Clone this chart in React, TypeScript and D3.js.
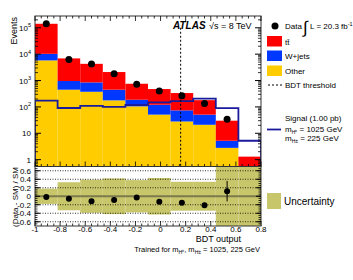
import React from "react";
import * as d3 from "d3";

// BDT output binning and per-bin yields
const binEdges = [-1, -0.82, -0.64, -0.46, -0.28, -0.1, 0.08, 0.26, 0.44, 0.62, 0.8];
const otherEvents = [5800, 450, 375, 177, 105, 51, 28, 21, 2.8, 0.2];
const wjetsEvents = [4500, 510, 475, 273, 82, 70, 46, 30, 2.4, 0.1];
const ttbarEvents = [131700, 5940, 3450, 1650, 568, 354, 261, 129, 24.8, 1.0];
const signalEvents = [172, 91, 110, 100, 118, 148, 165, 205, 90, 5.2];
const dataEvents = [142000, 6300, 4200, 1800, 720, 400, 265, 135, 34];

// lower panel: (Data - SM) / SM
const ratioValues = [-0.02, -0.06, -0.12, -0.09, -0.03, -0.13, -0.15, -0.21, 0.12];
const ratioErrors = [0.01, 0.02, 0.02, 0.03, 0.04, 0.05, 0.05, 0.06, 0.24];
const bandHalfWidth = [0.18, 0.33, 0.39, 0.42, 0.38, 0.43, 0.34, 0.34, 1.0, 1.0];

const xTickLabels = [-1, -0.8, -0.6, -0.4, -0.2, 0, 0.2, 0.4, 0.6, 0.8];
const ratioTickLabels = [0.6, 0.4, 0.2, 0, -0.2, -0.4, -0.6];
const eventExponents = [0, 1, 2, 3, 4, 5];
const bdtThreshold = 0.16;

const font = "'Liberation Sans', Arial, Helvetica, sans-serif";
const left = 35;
const right = 261;
const mainTop = 16;
const mainBottom = 166.5;
const ratioBottom = 226;
const yMin = 0.55;

const red = "#ff0000";
const blue = "#0038ff";
const yellow = "#ffcc00";
const sigBlue = "#1a1a9c";
const bandColor = "#c8c66a";

export default function App() {
  const x = d3.scaleLinear().domain([-1, 0.8]).range([left, right]);
  const y = d3.scaleLog().domain([yMin, 2.8e5]).range([mainBottom, mainTop]).clamp(true);
  const yr = d3.scaleLinear().domain([-0.7, 0.7]).range([ratioBottom, mainBottom]).clamp(true);

  const rows = otherEvents.map((o, i) => ({ other: o, wjets: wjetsEvents[i], ttbar: ttbarEvents[i] }));
  const stacked = d3.stack<any>().keys(["other", "wjets", "ttbar"])(rows);
  const fills = [yellow, blue, red];

  const centers = dataEvents.map((_, i) => (binEdges[i] + binEdges[i + 1]) / 2);

  // signal step outline
  const sigPts: [number, number][] = [[x(binEdges[0]), mainBottom]];
  signalEvents.forEach((v, i) => {
    sigPts.push([x(binEdges[i]), y(v)]);
    sigPts.push([x(binEdges[i + 1]), y(v)]);
  });
  sigPts.push([x(binEdges[binEdges.length - 1]), mainBottom]);
  const sigPath = d3.line()(sigPts) || "";

  // ticks
  const minorX = d3.range(-1, 0.8001, 0.05);
  const majorY: number[] = eventExponents.map((e) => Math.pow(10, e));
  const minorY: number[] = [];
  for (let e = -1; e <= 5; e++) {
    for (let k = 2; k <= 9; k++) {
      const v = k * Math.pow(10, e);
      if (v > yMin && v < 2.8e5) minorY.push(v);
    }
  }
  const ratioMinor = d3.range(-0.7, 0.7001, 0.05).filter((v) => Math.abs(v) < 0.69);

  return (
    <svg
      width={353}
      height={280}
      style={{ position: "absolute", left: 0, top: 0, background: "#fff" }}
      fontFamily={font}
    >
      <defs>
        <clipPath id="mainClip">
          <rect x={left} y={mainTop} width={right - left} height={mainBottom - mainTop} />
        </clipPath>
        <clipPath id="ratioClip">
          <rect x={left} y={mainBottom} width={right - left} height={ratioBottom - mainBottom} />
        </clipPath>
      </defs>

      {/* main panel */}
      <g clipPath="url(#mainClip)">
        {stacked.map((layer, li) =>
          layer.map((d, i) => (
            <rect
              key={`${li}-${i}`}
              x={x(binEdges[i])}
              width={x(binEdges[i + 1]) - x(binEdges[i])}
              y={y(d[1])}
              height={Math.max(0, y(Math.max(d[0], yMin)) - y(d[1]))}
              fill={fills[li]}
            />
          ))
        )}
        <path d={sigPath} fill="none" stroke={sigBlue} strokeWidth={1.8} />
      </g>
      <line
        x1={x(bdtThreshold)}
        x2={x(bdtThreshold)}
        y1={y(1e5)}
        y2={mainBottom}
        stroke="#000"
        strokeWidth={1}
        strokeDasharray="2,2"
      />
      {dataEvents.map((v, i) => (
        <circle key={i} cx={x(centers[i])} cy={y(v)} r={3.5} fill="#000" />
      ))}

      {/* main axes */}
      <rect x={left} y={mainTop} width={right - left} height={mainBottom - mainTop} fill="none" stroke="#333" strokeWidth={1} />
      {majorY.map((v) => (
        <g key={`my${v}`}>
          <line x1={left} x2={left + 6} y1={y(v)} y2={y(v)} stroke="#000" />
          <line x1={right} x2={right - 6} y1={y(v)} y2={y(v)} stroke="#000" />
        </g>
      ))}
      {minorY.map((v) => (
        <g key={`mny${v}`}>
          <line x1={left} x2={left + 3} y1={y(v)} y2={y(v)} stroke="#000" strokeWidth={0.8} />
          <line x1={right} x2={right - 3} y1={y(v)} y2={y(v)} stroke="#000" strokeWidth={0.8} />
        </g>
      ))}
      {minorX.map((v, i) => {
        const major = i % 4 === 0;
        return (
          <g key={`mx${i}`}>
            <line x1={x(v)} x2={x(v)} y1={mainBottom} y2={mainBottom - (major ? 5 : 2.5)} stroke="#000" strokeWidth={0.8} />
            <line x1={x(v)} x2={x(v)} y1={mainTop} y2={mainTop + (major ? 5 : 2.5)} stroke="#000" strokeWidth={0.8} />
            <line x1={x(v)} x2={x(v)} y1={ratioBottom} y2={ratioBottom - (major ? 5 : 2.5)} stroke="#000" strokeWidth={0.8} />
          </g>
        );
      })}
      {eventExponents.map((e) => (
        <text key={`ly${e}`} x={31} y={y(Math.pow(10, e)) + 3} fontSize={8} textAnchor="end">
          {e === 0 ? "1" : "10"}
          {e > 1 ? (
            <tspan dy={-3.5} fontSize={5.5}>
              {e}
            </tspan>
          ) : null}
        </text>
      ))}
      <text transform={`translate(16.5,17) rotate(-90)`} fontSize={9} textAnchor="end">
        Events
      </text>

      {/* ratio panel */}
      <g clipPath="url(#ratioClip)">
        {bandHalfWidth.map((h, i) => (
          <rect
            key={`b${i}`}
            x={x(binEdges[i])}
            width={x(binEdges[i + 1]) - x(binEdges[i])}
            y={yr(h)}
            height={yr(-h) - yr(h)}
            fill={bandColor}
          />
        ))}
        {ratioTickLabels
          .filter((v) => v !== 0)
          .map((v) => (
            <line key={`g${v}`} x1={left} x2={right} y1={yr(v)} y2={yr(v)} stroke="#000" strokeWidth={0.8} strokeDasharray="1,1.5" />
          ))}
        <line x1={left} x2={right} y1={yr(0)} y2={yr(0)} stroke="#7c7a4c" strokeWidth={2} />
        {ratioValues.map((v, i) => (
          <g key={`r${i}`}>
            <line x1={x(centers[i])} x2={x(centers[i])} y1={yr(v + ratioErrors[i])} y2={yr(v - ratioErrors[i])} stroke="#000" strokeWidth={1} />
            <circle cx={x(centers[i])} cy={yr(v)} r={3} fill="#000" />
          </g>
        ))}
      </g>
      <rect x={left} y={mainBottom} width={right - left} height={ratioBottom - mainBottom} fill="none" stroke="#333" strokeWidth={1} />
      {ratioTickLabels.map((v) => (
        <g key={`rt${v}`}>
          <line x1={left} x2={left + 5} y1={yr(v)} y2={yr(v)} stroke="#000" />
          <line x1={right} x2={right - 5} y1={yr(v)} y2={yr(v)} stroke="#000" />
          <text x={31} y={yr(v) + 3} fontSize={8} textAnchor="end">
            {v === 0 ? "0" : v.toFixed(1)}
          </text>
        </g>
      ))}
      {ratioMinor.map((v, i) => (
        <g key={`rm${i}`}>
          <line x1={left} x2={left + 2.5} y1={yr(v)} y2={yr(v)} stroke="#000" strokeWidth={0.8} />
          <line x1={right} x2={right - 2.5} y1={yr(v)} y2={yr(v)} stroke="#000" strokeWidth={0.8} />
        </g>
      ))}
      <text transform={`translate(18,197) rotate(-90)`} fontSize={8} textAnchor="middle">
        (Data - SM) / SM
      </text>
      {xTickLabels.map((v) => (
        <text key={`xl${v}`} x={x(v)} y={232} fontSize={8} textAnchor="middle">
          {v === 0 ? "0" : v === -1 ? "-1" : v.toFixed(1)}
        </text>
      ))}
      <text x={241} y={241.5} fontSize={9} textAnchor="end">
        BDT output
      </text>
      <text x={260} y={252} fontSize={7.5} textAnchor="end">
        Trained for m<tspan dy={2} fontSize={5}>H⁰</tspan>
        <tspan dy={-2}>, m</tspan>
        <tspan dy={2} fontSize={5}>H±</tspan>
        <tspan dy={-2}> = 1025, 225 GeV</tspan>
      </text>

      {/* ATLAS label */}
      <text x={173} y={29} fontSize={10} fontWeight="bold" fontStyle="italic">
        ATLAS
      </text>
      <text x={209} y={29} fontSize={9}>
        √s = 8 TeV
      </text>

      {/* legend */}
      <circle cx={275} cy={26} r={3.5} fill="#000" />
      <text x={285} y={29} fontSize={8}>
        Data
      </text>
      <text x={303} y={33} fontSize={17}>
        ∫
      </text>
      <text x={310} y={29} fontSize={8}>
        L = 20.3 fb<tspan dy={-3.5} fontSize={5.5}>-1</tspan>
      </text>
      <rect x={267} y={36} width={15} height={10.5} fill={red} />
      <text x={285} y={44.5} fontSize={8}>
        t{"t\u0304"}
      </text>
      <rect x={267} y={50.5} width={15} height={10.5} fill={blue} />
      <text x={285} y={59} fontSize={8}>
        W+jets
      </text>
      <rect x={267} y={65.5} width={15} height={10.5} fill={yellow} />
      <text x={285} y={74} fontSize={8}>
        Other
      </text>
      <line x1={268} x2={282} y1={85} y2={85} stroke="#000" strokeDasharray="2,2" />
      <text x={285} y={88} fontSize={8}>
        BDT threshold
      </text>
      <text x={285} y={121} fontSize={8}>
        Signal (1.00 pb)
      </text>
      <line x1={267} x2={281} y1={129.5} y2={129.5} stroke={sigBlue} strokeWidth={1.8} />
      <text x={285} y={132} fontSize={8}>
        m<tspan dy={2} fontSize={5}>H⁰</tspan>
        <tspan dy={-2}> = 1025 GeV</tspan>
      </text>
      <text x={285} y={141} fontSize={8}>
        m<tspan dy={2} fontSize={5}>H±</tspan>
        <tspan dy={-2}> = 225 GeV</tspan>
      </text>
      <rect x={267} y={193} width={14} height={16} fill={bandColor} />
      <text x={284} y={204.5} fontSize={10}>
        Uncertainty
      </text>
    </svg>
  );
}
